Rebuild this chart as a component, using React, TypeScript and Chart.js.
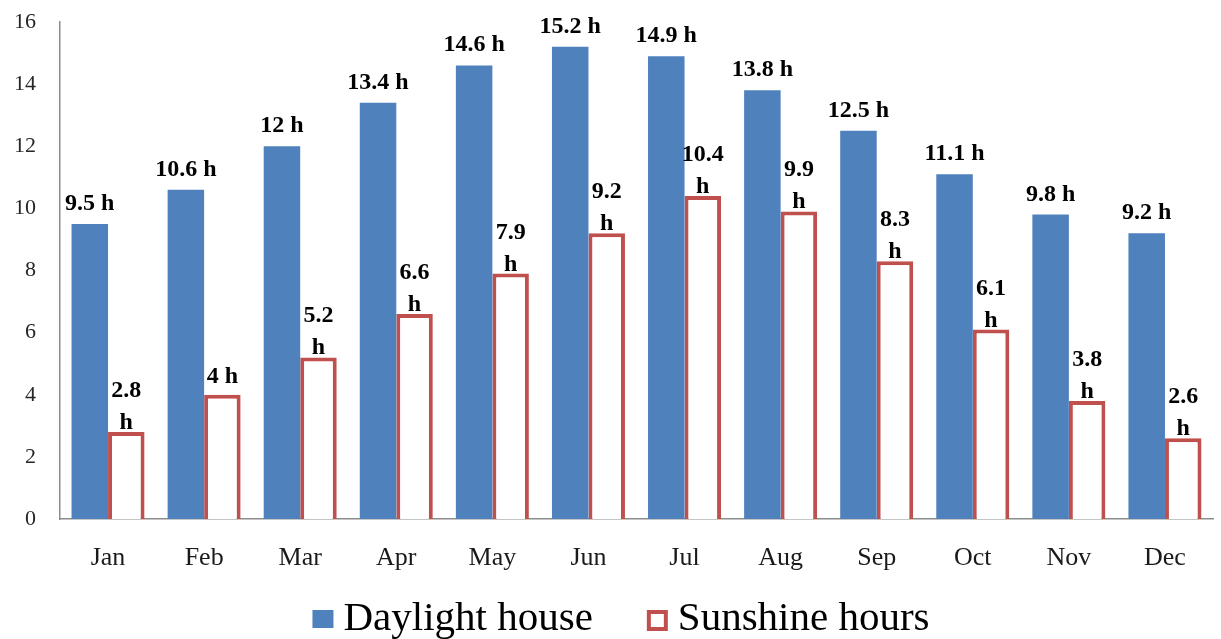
import React, { useEffect, useRef } from "react";
import { Chart, registerables } from "chart.js";

Chart.register(...registerables);

const months = ["Jan", "Feb", "Mar", "Apr", "May", "Jun", "Jul", "Aug", "Sep", "Oct", "Nov", "Dec"];
const daylightHours = [9.5, 10.6, 12, 13.4, 14.6, 15.2, 14.9, 13.8, 12.5, 11.1, 9.8, 9.2];
const sunshineHours = [2.8, 4, 5.2, 6.6, 7.9, 9.2, 10.4, 9.9, 8.3, 6.1, 3.8, 2.6];
const daylightLabels = ["9.5 h", "10.6 h", "12 h", "13.4 h", "14.6 h", "15.2 h", "14.9 h", "13.8 h", "12.5 h", "11.1 h", "9.8 h", "9.2 h"];
const sunshineLabels = ["2.8\nh", "4 h", "5.2\nh", "6.6\nh", "7.9\nh", "9.2\nh", "10.4\nh", "9.9\nh", "8.3\nh", "6.1\nh", "3.8\nh", "2.6\nh"];
const seriesNames = ["Daylight house", "Sunshine hours"];
const yTicks = [0, 2, 4, 6, 8, 10, 12, 14, 16];

const BLUE = "#4F81BD";
const RED = "#C0504D";
const SERIF = "'Liberation Serif', 'Times New Roman', serif";

const valueLabelPlugin = {
  id: "valueLabels",
  afterDatasetsDraw(chart: any) {
    const ctx = chart.ctx;
    ctx.save();
    ctx.fillStyle = "#000";
    ctx.font = `bold 24px ${SERIF}`;
    ctx.textAlign = "center";
    ctx.textBaseline = "alphabetic";
    const m0 = chart.getDatasetMeta(0);
    m0.data.forEach((el: any, i: number) => {
      ctx.fillText(daylightLabels[i], el.x, el.y - 14);
    });
    const m1 = chart.getDatasetMeta(1);
    m1.data.forEach((el: any, i: number) => {
      const lines = sunshineLabels[i].split("\n");
      if (lines.length === 1) {
        ctx.fillText(lines[0], el.x, el.y - 12);
      } else {
        const lh = 32;
        for (let k = 0; k < lines.length; k++) {
          const y = el.y - 3 - (lines.length - 1 - k) * lh;
          ctx.fillText(lines[k], el.x, y);
        }
      }
    });
    ctx.restore();
  },
};

const customLegendPlugin = {
  id: "customLegend",
  afterDraw(chart: any) {
    const ctx = chart.ctx;
    ctx.save();
    ctx.font = `41px ${SERIF}`;
    ctx.textBaseline = "alphabetic";
    ctx.textAlign = "left";
    const box = 21;
    const gapBoxText = 10;
    const gapItems = 54;
    const widths = seriesNames.map((n) => ctx.measureText(n).width);
    const total = widths.reduce((a, w) => a + box + gapBoxText + w, 0) + gapItems;
    let x = 621 - total / 2;
    const baseline = 630;
    const boxTop = 610;
    chart.data.datasets.forEach((ds: any, i: number) => {
      if (i === 0) {
        ctx.fillStyle = ds.backgroundColor;
        ctx.fillRect(x, boxTop, box, box - 3);
      } else {
        ctx.fillStyle = "#fff";
        ctx.fillRect(x, boxTop, box, box);
        ctx.strokeStyle = ds.borderColor;
        ctx.lineWidth = 4;
        ctx.strokeRect(x + 2, boxTop + 2, box - 4, box - 4);
      }
      x += box + gapBoxText;
      ctx.fillStyle = "#000";
      ctx.fillText(seriesNames[i], x, baseline);
      x += widths[i] + gapItems;
    });
    ctx.restore();
  },
};

export default function App() {
  const ref = useRef<HTMLCanvasElement>(null);
  useEffect(() => {
    if (!ref.current) return;
    const chart = new Chart(ref.current, {
      type: "bar",
      data: {
        labels: months,
        datasets: [
          {
            label: seriesNames[0],
            data: daylightHours,
            backgroundColor: BLUE,
            borderWidth: 0,
            categoryPercentage: 0.76,
            barPercentage: 1,
          },
          {
            label: seriesNames[1],
            data: sunshineHours,
            backgroundColor: "#ffffff",
            borderColor: RED,
            borderWidth: 4,
            categoryPercentage: 0.76,
            barPercentage: 1,
          },
        ],
      },
      options: {
        responsive: false,
        animation: false,
        layout: { padding: { top: 22, right: 8, bottom: 40, left: 0 } },
        plugins: {
          legend: { display: false },
          tooltip: { enabled: false },
        },
        scales: {
          x: {
            grid: { display: false, drawTicks: false },
            border: { display: true, color: "#8c8c8c", width: 1.5 },
            ticks: {
              color: "#1a1a1a",
              font: { family: SERIF, size: 26 },
              padding: 24,
            },
            afterFit(scale: any) {
              scale.height = 80;
            },
          },
          y: {
            min: 0,
            max: 16,
            grid: { display: false, drawTicks: true, tickLength: 22 },
            border: { display: true, color: "#8c8c8c", width: 1.5 },
            afterBuildTicks(scale: any) {
              scale.ticks = yTicks.map((v) => ({ value: v }));
            },
            ticks: {
              color: "#262626",
              font: { family: SERIF, size: 22 },
              padding: 2,
            },
            afterFit(scale: any) {
              scale.width = 60;
            },
          },
        },
      },
      plugins: [valueLabelPlugin, customLegendPlugin],
    });
    return () => chart.destroy();
  }, []);
  return (
    <div style={{ position: "absolute", left: 0, top: 0, width: 1221, height: 639, background: "#fff" }}>
      <canvas ref={ref} width={1221} height={639} style={{ display: "block" }} />
    </div>
  );
}
